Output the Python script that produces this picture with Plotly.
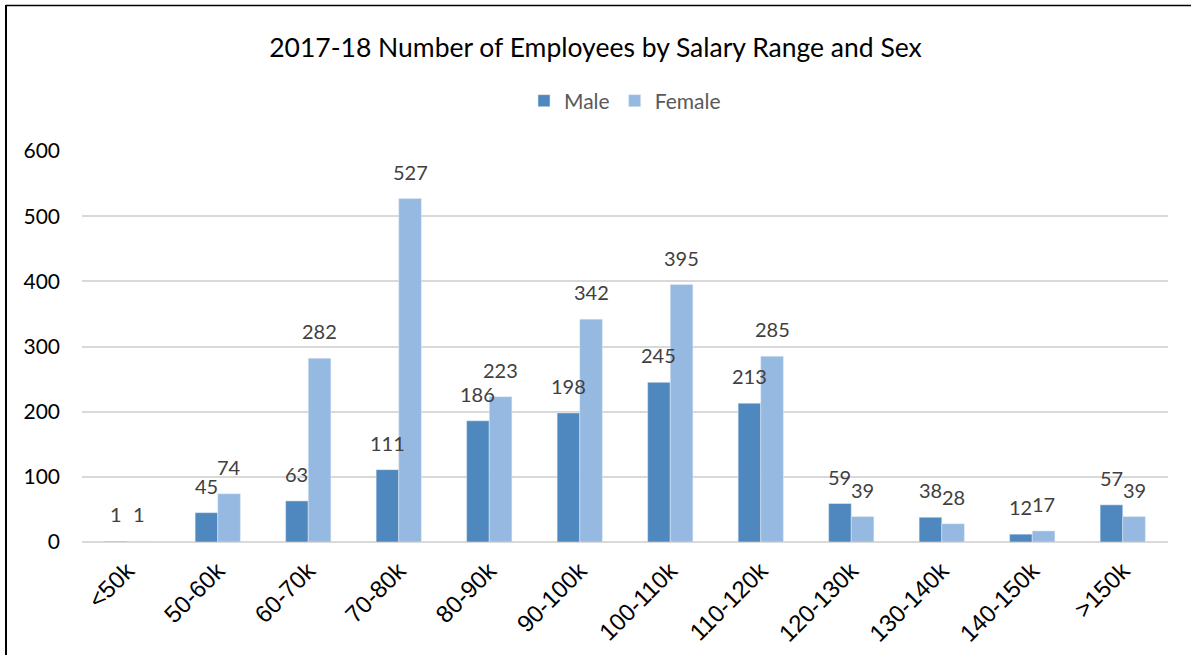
import plotly.graph_objects as go

categories = ["<50k", "50-60k", "60-70k", "70-80k", "80-90k", "90-100k",
              "100-110k", "110-120k", "120-130k", "130-140k", "140-150k", ">150k"]
male = [1, 45, 63, 111, 186, 198, 245, 213, 59, 38, 12, 57]
female = [1, 74, 282, 527, 223, 342, 395, 285, 39, 28, 17, 39]
y_ticks = [0, 100, 200, 300, 400, 500, 600]

MALE_C = "#4F88BE"
FEMALE_C = "#95B9E1"
FONT = "Lato"
LABEL_C = "#404040"

PLOT_W = 1191 - 82 - 23
BARGAP = 0.5
bar_w = PLOT_W / len(categories) * (1 - BARGAP) / 2

fig = go.Figure()
fig.add_trace(go.Bar(name="Male", x=categories, y=male, marker_color=MALE_C))
fig.add_trace(go.Bar(name="Female", x=categories, y=female, marker_color=FEMALE_C))

# data labels above each bar
for vals, sign in ((male, -1), (female, 1)):
    for c, v in zip(categories, vals):
        fig.add_annotation(x=c, y=v, text=str(v), showarrow=False,
                           xanchor="center", yanchor="bottom",
                           xshift=sign * bar_w / 2, yshift=13,
                           font=dict(family=FONT, size=20, color=LABEL_C))

fig.update_layout(
    width=1191, height=655,
    margin=dict(l=82, r=23, t=151, b=113),
    paper_bgcolor="white", plot_bgcolor="white",
    barmode="group", bargap=BARGAP, bargroupgap=0,
    title=dict(text="2017-18 Number of Employees by Salary Range and Sex",
               x=0.5, xanchor="center", y=1 - 48 / 655, yanchor="middle",
               font=dict(family=FONT, size=26.5, color="#000000")),
    legend=dict(orientation="h", x=0.5, xanchor="center", y=1 + (151 - 101) / 391,
                yanchor="middle", font=dict(family=FONT, size=21, color="#595959"),
                itemwidth=30, traceorder="normal"),
    font=dict(family=FONT),
)
fig.update_yaxes(range=[0, 600], tickvals=y_ticks, showgrid=True, gridcolor="#D9D9D9",
                 gridwidth=1.5, zeroline=True, zerolinecolor="#D9D9D9", zerolinewidth=1.5,
                 showline=False, ticks="", ticklabelstandoff=21, automargin=False,
                 tickfont=dict(family=FONT, size=21, color="#000000"))
fig.update_xaxes(tickangle=-45, showline=False, ticks="", showgrid=False,
                 ticklabelstandoff=9, automargin=False,
                 tickfont=dict(family="Liberation Sans", size=24, color="#000000"))

# chart border (left and top edges)
fig.add_shape(type="line", xref="paper", yref="paper",
              x0=(6 - 82) / 1086, x1=(6 - 82) / 1086, y0=(542 - 5) / 391, y1=(542 - 660) / 391,
              line=dict(color="#000000", width=2))
fig.add_shape(type="line", xref="paper", yref="paper",
              x0=(6 - 82) / 1086, x1=(1195 - 82) / 1086, y0=(542 - 5.5) / 391, y1=(542 - 5.5) / 391,
              line=dict(color="#000000", width=1.5))

fig.write_html("out.html")
